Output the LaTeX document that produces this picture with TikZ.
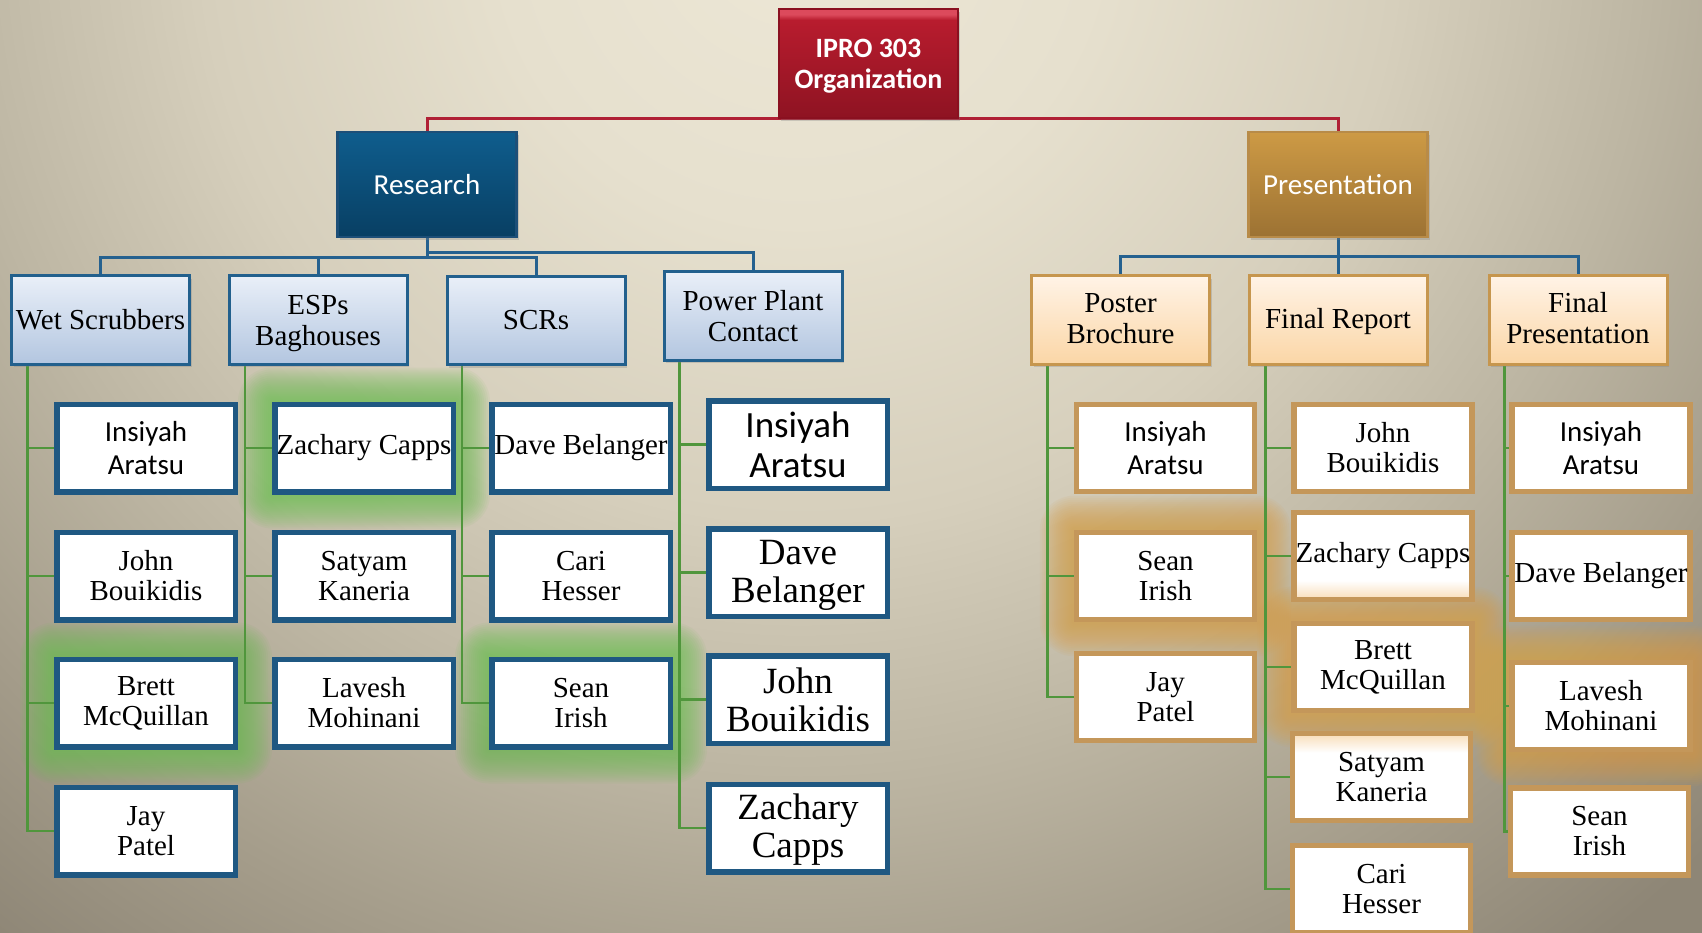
\documentclass[tikz,border=0pt]{standalone}
\usepackage{fontspec}
\setmainfont{Liberation Serif}
\newfontfamily\calfont{Carlito}
\usetikzlibrary{shadows,calc}

\definecolor{bgA}{HTML}{EDE7D6}
\definecolor{bgB}{HTML}{E6E0CE}
\definecolor{bgC}{HTML}{D6CFBC}
\definecolor{bgD}{HTML}{BDB6A3}
\definecolor{bgE}{HTML}{A39B89}
\definecolor{bgF}{HTML}{8E8676}
\definecolor{ipHi}{HTML}{DC4A5C}
\definecolor{ipMid}{HTML}{B81C2E}
\definecolor{ipBot}{HTML}{8E1322}
\definecolor{ipBorder}{HTML}{8A1020}
\definecolor{resTop}{HTML}{0F5D8D}
\definecolor{resBot}{HTML}{083F63}
\definecolor{resBorder}{HTML}{1D4F78}
\definecolor{prTop}{HTML}{CD9A45}
\definecolor{prBot}{HTML}{9C7233}
\definecolor{prBorder}{HTML}{B88B48}
\definecolor{lbTop}{HTML}{E9EFF8}
\definecolor{lbBot}{HTML}{B3C6E0}
\definecolor{lbBorder}{HTML}{22608D}
\definecolor{orTop}{HTML}{FFF3E6}
\definecolor{orBot}{HTML}{FBD6A6}
\definecolor{orBorder}{HTML}{C6964E}
\definecolor{kidBlue}{HTML}{1F5882}
\definecolor{kidTan}{HTML}{C4975A}
\definecolor{peach}{HTML}{F8DDB8}
\definecolor{redLine}{HTML}{B02035}
\definecolor{blueLine}{HTML}{25618F}
\definecolor{greenLine}{HTML}{50963C}
\definecolor{glowGreen}{HTML}{6FBE55}
\definecolor{glowTan}{HTML}{D9A04A}

\pgfdeclareradialshading{bgrad}{\pgfpoint{0bp}{0bp}}{color(0bp)=(bgA);color(5.4bp)=(bgB);color(10.7bp)=(bgC);color(15.2bp)=(bgD);color(19.6bp)=(bgE);color(23.2bp)=(bgF);color(50bp)=(bgF)}
\pgfdeclareverticalshading{iproshade}{100bp}{color(0bp)=(ipBot);color(25bp)=(ipBot);color(70bp)=(ipMid);color(72.5bp)=(ipHi);color(75bp)=(ipHi);color(100bp)=(ipHi)}
\pgfdeclareverticalshading{zshade}{100bp}{color(0bp)=(peach);color(25bp)=(peach);color(36bp)=(white);color(100bp)=(white)}
\pgfdeclareverticalshading{sshade}{100bp}{color(0bp)=(white);color(64bp)=(white);color(75bp)=(peach);color(100bp)=(peach)}

\pgfdeclarelayer{bglayer}
\pgfdeclarelayer{glowlayer}
\pgfdeclarelayer{linelayer}
\pgfsetlayers{bglayer,glowlayer,linelayer,main}

\newcommand\sfs{\calfont\fontsize{29}{32.5}\selectfont}
\newcommand\rms{\fontsize{29}{30}\selectfont}
\newcommand\sfb{\calfont\fontsize{37}{40}\selectfont}
\newcommand\rmb{\fontsize{37}{38}\selectfont}
\newcommand\twoline[3]{\raisebox{-#1}[\height][\depth]{\begin{tabular}{@{}c@{}}#2\\#3\end{tabular}}}

\newcommand\glowbox[2]{%
  \begin{pgfonlayer}{glowlayer}
  \foreach \d in {34,32,...,2}{
    \fill[#2, opacity=0.075, rounded corners=\d pt]
      ($(#1.north west)+(-\d,-\d)$) rectangle ($(#1.south east)+(\d,\d)$);
  }
  \end{pgfonlayer}}

\tikzset{
  boxbase/.style={rectangle, inner sep=0pt, align=center},
  shad/.style={drop shadow={shadow xshift=2pt, shadow yshift=-3pt, opacity=0.3}},
  topbox/.style={boxbase, shad, draw=ipBorder, line width=2pt, shading=iproshade,
    minimum width=179pt, minimum height=109pt, text=white, font=\calfont\fontsize{28}{31.5}\selectfont\bfseries},
  resbox/.style={boxbase, shad, draw=resBorder, line width=2.5pt, top color=resTop, bottom color=resBot,
    minimum width=179pt, minimum height=105pt, text=white, font=\calfont\fontsize{29}{32}\selectfont},
  presbox/.style={boxbase, shad, draw=prBorder, line width=2.5pt, top color=prTop, bottom color=prBot,
    minimum width=179pt, minimum height=105pt, text=white, font=\calfont\fontsize{29}{32}\selectfont},
  ltwo/.style={boxbase, shad, draw=lbBorder, line width=3pt, top color=lbTop, bottom color=lbBot,
    minimum width=178pt, minimum height=88pt, font=\fontsize{29}{31}\selectfont},
  rtwo/.style={boxbase, shad, draw=orBorder, line width=3pt, top color=orTop, bottom color=orBot,
    minimum width=178pt, minimum height=88pt, font=\fontsize{29}{31}\selectfont},
  lkid/.style={boxbase, draw=kidBlue, line width=5.5pt, fill=white,
    minimum width=178.5pt, minimum height=87.5pt, font=\rms},
  rkid/.style={boxbase, draw=kidTan, line width=5.5pt, fill=white,
    minimum width=178pt, minimum height=87pt, font=\rms},
  redline/.style={draw=redLine, line width=3pt},
  blueline/.style={draw=blueLine, line width=3pt},
  greenline/.style={draw=greenLine, line width=2.5pt},
}

\begin{document}
\begin{tikzpicture}[x=1pt, y=-1pt]
\useasboundingbox (0,0) rectangle (1702,933);
\begin{pgfonlayer}{bglayer}
  \clip (0,0) rectangle (1702,933);
  \shade[shading=bgrad] (-600,-1480) rectangle (2200,1320);
\end{pgfonlayer}

% top levels
\node[topbox] (ipro) at (868.5,63.5) {\twoline{3pt}{IPRO 303}{Organization}};
\node[resbox] (res) at (427,184.5) {Research};
\node[presbox] (pres) at (1338,184.5) {Presentation};

% second level
\node[ltwo] (ws)  at (100.5,320) {Wet Scrubbers};
\node[ltwo] (esp) at (318,320) {\twoline{4pt}{ESPs}{Baghouses}};
\node[ltwo] (scr) at (536,320.5) {SCRs};
\node[ltwo] (ppc) at (753,316) {Power Plant\\Contact};
\node[rtwo] (pb)  at (1120.5,320) {\twoline{1.5pt}{Poster}{Brochure}};
\node[rtwo] (fr)  at (1338,320) {\twoline{2pt}{Final Report}{}};
\node[rtwo] (fp)  at (1578,320) {\twoline{1.5pt}{Final}{Presentation}};

% Wet Scrubbers
\node[lkid, font=\sfs] (a1) at (146,448) {Insiyah\\Aratsu};
\node[lkid] (a2) at (146,576) {John\\Bouikidis};
\node[lkid] (a3) at (146,703) {Brett\\McQuillan};
\node[lkid] (a4) at (146,831) {Jay\\Patel};
% ESPs
\node[lkid] (b1) at (364,448) {Zachary Capps};
\node[lkid] (b2) at (364,576) {Satyam\\Kaneria};
\node[lkid] (b3) at (364,703) {Lavesh\\Mohinani};
% SCRs
\node[lkid] (c1) at (581,448) {Dave Belanger};
\node[lkid] (c2) at (581,576) {Cari\\Hesser};
\node[lkid] (c3) at (581,703) {Sean\\Irish};
% Power Plant Contact
\node[lkid, font=\sfb] (d1) at (798,444.5) {Insiyah\\Aratsu};
\node[lkid, font=\rmb] (d2) at (798,572.5) {\twoline{3pt}{Dave}{Belanger}};
\node[lkid, font=\rmb] (d3) at (798,699.5) {John\\Bouikidis};
\node[lkid, font=\rmb] (d4) at (798,828) {\twoline{3pt}{Zachary}{Capps}};
% Poster Brochure
\node[rkid, font=\sfs] (p1) at (1165.5,448) {Insiyah\\Aratsu};
\node[rkid] (p2) at (1165.5,576) {Sean\\Irish};
\node[rkid] (p3) at (1165.5,697) {Jay\\Patel};
% Final Report
\node[rkid] (f1) at (1383,448) {John\\Bouikidis};
\node[rkid, shading=zshade] (f2) at (1383,556) {Zachary Capps};
\node[rkid] (f3) at (1383,667) {Brett\\McQuillan};
\node[rkid, shading=sshade] (f4) at (1381.5,777) {Satyam\\Kaneria};
\node[rkid] (f5) at (1381.5,889) {Cari\\Hesser};
% Final Presentation
\node[rkid, font=\sfs] (g1) at (1601,448) {Insiyah\\Aratsu};
\node[rkid] (g2) at (1601,576) {Dave Belanger};
\node[rkid] (g3) at (1601,706) {Lavesh\\Mohinani};
\node[rkid] (g4) at (1599.5,831.5) {Sean\\Irish};

% glows
\glowbox{b1}{glowGreen}
\glowbox{a3}{glowGreen}
\glowbox{c3}{glowGreen}
\glowbox{p2}{glowTan}
\glowbox{f3}{glowTan}
\glowbox{g3}{glowTan}

\begin{pgfonlayer}{linelayer}
  % red
  \draw[redline] (res.north) |- (ipro.south) -| (pres.north);
  % blue
  \draw[blueline] (res.south) -- ++(0,19) coordinate (rbar);
  \draw[blueline] (rbar) -| (ws.north);
  \draw[blueline] (rbar) -| (esp.north);
  \draw[blueline] (rbar) -| (scr.north);
  \draw[blueline] (res.south) -- ++(0,14) -| (ppc.north);
  \draw[blueline] (pres.south) -- ++(0,18) coordinate (pbar);
  \draw[blueline] (pbar) -| (pb.north);
  \draw[blueline] (pbar) -| (fp.north);
  \draw[blueline] (pbar) -- (fr.north);
  % green
  \coordinate (wsl) at ([xshift=17.5pt]ws.south west);
  \coordinate (espl) at ([xshift=17.5pt]esp.south west);
  \coordinate (scrl) at ([xshift=16.5pt]scr.south west);
  \coordinate (ppcl) at ([xshift=17pt]ppc.south west);
  \coordinate (pbl) at ([xshift=17.5pt]pb.south west);
  \coordinate (frl) at ([xshift=18pt]fr.south west);
  \coordinate (fpl) at ([xshift=17pt]fp.south west);
  \draw[greenline] (wsl) |- (a4.west);
  \foreach \n in {a1,a2,a3} \draw[greenline] (wsl |- \n.west) -- (\n.west);
  \draw[greenline] (espl) |- (b3.west);
  \foreach \n in {b1,b2} \draw[greenline] (espl |- \n.west) -- (\n.west);
  \draw[greenline] (scrl) |- (c3.west);
  \foreach \n in {c1,c2} \draw[greenline] (scrl |- \n.west) -- (\n.west);
  \draw[greenline] (ppcl) |- (d4.west);
  \foreach \n in {d1,d2,d3} \draw[greenline] (ppcl |- \n.west) -- (\n.west);
  \draw[greenline] (pbl) |- (p3.west);
  \foreach \n in {p1,p2} \draw[greenline] (pbl |- \n.west) -- (\n.west);
  \draw[greenline] (frl) |- (f5.west);
  \foreach \n in {f1,f2,f3,f4} \draw[greenline] (frl |- \n.west) -- (\n.west);
  \draw[greenline] (fpl) |- (g4.west);
  \foreach \n in {g1,g2,g3} \draw[greenline] (fpl |- \n.west) -- (\n.west);
\end{pgfonlayer}
\end{tikzpicture}
\end{document}
